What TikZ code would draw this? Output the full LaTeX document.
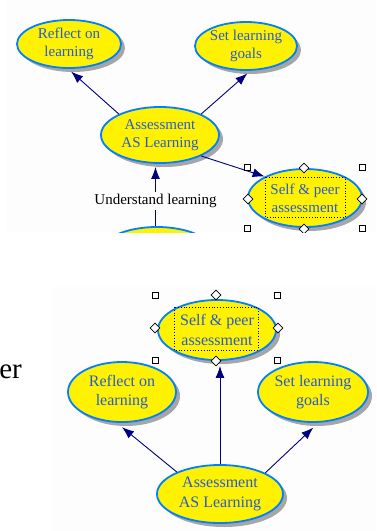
\documentclass[tikz,border=0pt]{standalone}
\usepackage{fontspec}
\setmainfont{Liberation Serif}
\usetikzlibrary{shapes.geometric,arrows.meta,shadows,calc}
\definecolor{bline}{RGB}{0,128,255}
\definecolor{btext}{RGB}{40,90,210}
\definecolor{navyc}{RGB}{0,0,128}
\definecolor{panel}{RGB}{253,253,253}
\begin{document}
\begin{tikzpicture}[x=1pt,y=-1pt,
  bub/.style={ellipse, draw=bline, line width=1.8pt, fill=yellow, inner sep=0pt,
    align=center, text=btext, font=\fontsize{15}{18}\selectfont,
    drop shadow={shadow xshift=4pt, shadow yshift=-4pt, fill=black!35, opacity=1}},
  bubb/.style={bub, font=\fontsize{16}{19.5}\selectfont},
  link/.style={draw=navyc, line width=0.9pt, -{Latex[length=12pt,width=9pt]}},
  plainlink/.style={draw=navyc, line width=0.9pt},
  hsq/.style={rectangle, draw=black, fill=white, line width=0.8pt, minimum size=6pt, inner sep=0pt},
  hdia/.style={diamond, draw=black, fill=white, line width=0.7pt, minimum size=10pt, inner sep=0pt},
  selbox/.style={draw=navyc, dotted, line width=0.8pt},
  blacktext/.style={text=black, inner sep=0pt}]

\useasboundingbox (0,0) rectangle (376,531);

% ---------- top panel ----------
\begin{scope}
\clip (0,0) rectangle (376,232);
\fill[panel] (7,0) rectangle (376,232);
\node[bub, minimum width=104pt, minimum height=48pt] (ref1) at (69,44) {Reflect on\\learning};
\node[bub, minimum width=102pt, minimum height=48pt] (set1) at (246,46) {Set learning\\goals};
\node[bub, minimum width=118pt, minimum height=56pt] (ass1) at (160,135) {Assessment\\AS Learning};
\node[bub, minimum width=114pt, minimum height=58pt] (sp1) at (305,198) {Self \& peer\\assessment};
\node[bub, minimum width=118pt, minimum height=56pt] (bot1) at (157,255) {};
\node[blacktext, font=\fontsize{15}{18}\selectfont] (und) at (155.5,201) {Understand learning};

\draw[selbox] ([shift={(-40,-21)}]sp1.center) rectangle ([shift={(40,19)}]sp1.center);

\draw[link, shorten >=4pt] (ass1.153) -- (ref1.-92);
\draw[link, shorten >=4pt] (ass1.27) -- (set1.-80);
\draw[link] (ass1.-27) -- (sp1.152);
\draw[link, shorten >=3pt, shorten <=2pt] (und.north) -- (und.north |- ass1.south);
\draw[plainlink, shorten <=2pt] (und.south) -- (und.south |- bot1.north);

\node[hsq] (t1) at ([shift={(-58,-31)}]sp1.center) {};
\node[hsq] (t2) at ([shift={(57,-31)}]sp1.center) {};
\node[hsq] (t3) at ([shift={(-58,30)}]sp1.center) {};
\node[hsq] (t4) at ([shift={(57,30)}]sp1.center) {};
\node[hdia] (d1) at ([shift={(-1,-30)}]sp1.center) {};
\node[hdia] (d2) at ([shift={(-57,1)}]sp1.center) {};
\node[hdia] (d3) at ([shift={(57,1)}]sp1.center) {};
\node[hdia] (d4) at ([shift={(-1,31)}]sp1.center) {};
\end{scope}

% ---------- left text ----------
\node[blacktext, anchor=base east, font=\fontsize{29}{32}\selectfont] (er) at (22,378) {er};

% ---------- bottom panel ----------
\begin{scope}
\clip (52,287) rectangle (376,531);
\fill[panel] (52,287) rectangle (376,531);
\node[bubb, minimum width=118pt, minimum height=60pt] (sp2) at (217,330) {Self \& peer\\assessment};
\node[bubb, minimum width=108pt, minimum height=60pt] (ref2) at (122,392) {Reflect on\\learning};
\node[bubb, minimum width=110pt, minimum height=60pt] (set2) at (313,392) {Set learning\\goals};
\node[bubb, minimum width=126pt, minimum height=58pt] (ass2) at (220,494) {Assessment\\AS Learning};

\draw[selbox] ([shift={(-43,-23)}]sp2.center) rectangle ([shift={(41,20)}]sp2.center);

\draw[link, shorten >=7pt] (ass2.153) -- (ref2.-100);
\draw[link, shorten >=7pt] (ass2.25) -- (set2.-80);
\draw[link, shorten >=5pt] (ass2.north) -- (ass2.north |- sp2.south);

\node[hsq] (b1) at ([shift={(-62,-35)}]sp2.center) {};
\node[hsq] (b2) at ([shift={(60,-35)}]sp2.center) {};
\node[hsq] (b3) at ([shift={(-62,30)}]sp2.center) {};
\node[hsq] (b4) at ([shift={(60,30)}]sp2.center) {};
\node[hdia] (e1) at ([shift={(-1,-35)}]sp2.center) {};
\node[hdia] (e2) at ([shift={(-62,-2)}]sp2.center) {};
\node[hdia] (e3) at ([shift={(61,-2)}]sp2.center) {};
\node[hdia] (e4) at ([shift={(-1,31)}]sp2.center) {};
\end{scope}
\end{tikzpicture}
\end{document}
